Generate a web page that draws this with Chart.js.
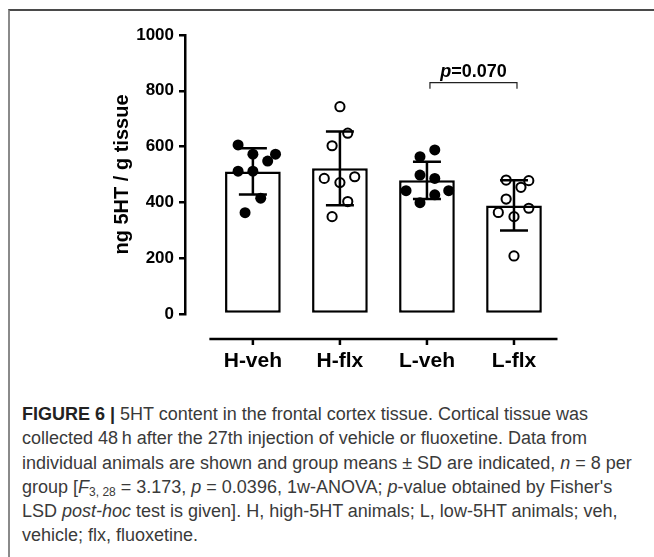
<!DOCTYPE html>
<html>
<head>
<meta charset="utf-8">
<script src="https://cdn.jsdelivr.net/npm/chart.js@4"></script>
<style>
  html, body { margin: 0; padding: 0; background: #fff; }
  body { width: 654px; height: 557px; position: relative; overflow: hidden; }
  #frame { position: absolute; left: 8px; top: 9px; width: 646px; height: 548px;
           border-top: 2px solid #4a4a4a; border-left: 2px solid #8a8a8a; box-sizing: border-box; }
  #c { position: absolute; left: 0; top: 0; }
  #caption { position: absolute; left: 22px; top: 402px; width: 630px;
             font-family: "Liberation Sans", Arial, sans-serif; font-size: 18px; line-height: 24.3px;
             color: #3a3a3a; white-space: nowrap; }
  #caption b { color: #222; }
  sub { font-size: 12px; line-height: 0; vertical-align: -3px; }
</style>
</head>
<body>
<div id="frame"></div>
<canvas id="c" width="654" height="400"></canvas>
<div id="caption">
<b>FIGURE 6 |</b> 5HT content in the frontal cortex tissue. Cortical tissue was<br>
collected 48&#8201;h after the 27th injection of vehicle or fluoxetine. Data from<br>
individual animals are shown and group means &#177; SD are indicated, <i>n</i> = 8 per<br>
group [<i>F</i><sub>3, 28</sub> = 3.173, <i>p</i> = 0.0396, 1w-ANOVA; <i>p</i>-value obtained by Fisher's<br>
LSD <i>post-hoc</i> test is given]. H, high-5HT animals; L, low-5HT animals; veh,<br>
vehicle; flx, fluoxetine.
</div>
<script>
// ---- data ----
const categories = ['H-veh', 'H-flx', 'L-veh', 'L-flx'];
const means = [511, 522, 479, 389];
const sds = [83, 132, 67, 90];
const hVeh = [606, 573, 573, 548, 512, 512, 415, 363];
const hVehJitter = [-0.17, 0, 0.26, 0.17, -0.17, 0, 0.09, -0.09];
const hFlx = [743, 648, 603, 486, 492, 471, 403, 349];
const hFlxJitter = [0, 0.09, -0.09, -0.18, 0.17, 0, 0.09, -0.09];
const lVeh = [588, 564, 498, 486, 442, 442, 427, 399];
const lVehJitter = [0.09, -0.08, -0.08, 0.09, -0.24, 0.25, 0.09, -0.08];
const lFlx = [480, 478, 454, 412, 364, 379, 349, 208];
const lFlxJitter = [-0.09, 0.17, 0.08, -0.09, -0.18, 0.17, 0, 0];
const yTicks = [0, 200, 400, 600, 800, 1000];
const yTitle = 'ng 5HT / g tissue';
const comparePair = [2, 3];
const compareLevel = 829;
const compareText = ['p', '=0.070'];

const groups = [
  { values: hVeh, jitter: hVehJitter, filled: true },
  { values: hFlx, jitter: hFlxJitter, filled: false },
  { values: lVeh, jitter: lVehJitter, filled: true },
  { values: lFlx, jitter: lFlxJitter, filled: false }
];

const FONT = '"Liberation Sans", Arial, sans-serif';

const scatterSets = groups.map((g, i) => ({
  type: 'scatter',
  order: 1,
  data: g.values.map((v, k) => ({ x: i + g.jitter[k], y: v })),
  pointRadius: g.filled ? 5.5 : 4.6,
  pointHoverRadius: g.filled ? 5.5 : 4.6,
  pointBackgroundColor: g.filled ? '#000' : 'rgba(0,0,0,0)',
  pointBorderColor: '#000',
  pointBorderWidth: g.filled ? 0 : 2,
  clip: false
}));

const overlay = {
  id: 'overlay',
  afterDatasetsDraw(chart) {
    const { ctx, scales: { x, y } } = chart;
    ctx.save();
    ctx.strokeStyle = '#000';
    ctx.lineWidth = 2.5;
    ctx.lineCap = 'butt';
    // error bars (mean ± SD)
    means.forEach((m, i) => {
      const px = x.getPixelForValue(i);
      const top = y.getPixelForValue(m + sds[i]);
      const bot = y.getPixelForValue(m - sds[i]);
      ctx.beginPath();
      ctx.moveTo(px, top); ctx.lineTo(px, bot);
      ctx.moveTo(px - 14, top); ctx.lineTo(px + 14, top);
      ctx.moveTo(px - 14, bot); ctx.lineTo(px + 14, bot);
      ctx.stroke();
    });
    // offset x axis
    const y0 = y.getPixelForValue(0) + 25;
    ctx.beginPath();
    ctx.moveTo(x.getPixelForValue(-0.5), y0);
    ctx.lineTo(x.getPixelForValue(categories.length - 0.5), y0);
    categories.forEach((c, i) => {
      const px = x.getPixelForValue(i);
      ctx.moveTo(px, y0); ctx.lineTo(px, y0 + 6);
    });
    ctx.stroke();
    // comparison bracket
    const xa = x.getPixelForValue(comparePair[0]) + 3;
    const xb = x.getPixelForValue(comparePair[1]) + 3;
    const yb = y.getPixelForValue(compareLevel);
    ctx.lineWidth = 1.2;
    ctx.strokeStyle = '#222';
    ctx.beginPath();
    ctx.moveTo(xa, yb + 6); ctx.lineTo(xa, yb); ctx.lineTo(xb, yb); ctx.lineTo(xb, yb + 6);
    ctx.stroke();
    // label
    ctx.fillStyle = '#000';
    ctx.textBaseline = 'alphabetic';
    ctx.font = 'italic bold 18px ' + FONT;
    const w1 = ctx.measureText(compareText[0]).width;
    ctx.font = 'bold 18px ' + FONT;
    const w2 = ctx.measureText(compareText[1]).width;
    let tx = (xa + xb) / 2 - (w1 + w2) / 2;
    const ty = yb - 6;
    ctx.font = 'italic bold 18px ' + FONT;
    ctx.fillText(compareText[0], tx, ty);
    ctx.font = 'bold 18px ' + FONT;
    ctx.fillText(compareText[1], tx + w1, ty);
    ctx.restore();
  }
};

new Chart(document.getElementById('c'), {
  data: {
    datasets: [
      ...scatterSets,
      {
        type: 'bar',
        order: 2,
        data: means.map((m, i) => ({ x: i, y: m })),
        backgroundColor: '#fff',
        borderColor: '#000',
        borderWidth: 2.5,
        borderSkipped: false,
        barPercentage: 0.64,
        categoryPercentage: 1
      }
    ]
  },
  options: {
    responsive: false,
    devicePixelRatio: 1,
    animation: false,
    events: [],
    layout: { padding: { left: 107, top: 35, right: 96.5, bottom: 26 } },
    plugins: { legend: { display: false }, tooltip: { enabled: false } },
    scales: {
      x: {
        type: 'linear',
        offset: false,
        bounds: 'data',
        min: -0.78,
        max: 3.5,
        afterFit(s) { s.height = 60; },
        afterBuildTicks(s) { s.ticks = categories.map((c, i) => ({ value: i })); },
        border: { display: false },
        grid: { display: false, drawTicks: false, offset: false },
        ticks: {
          padding: 35,
          autoSkip: false,
          maxRotation: 0,
          color: '#000',
          font: { family: FONT, size: 21, weight: 'bold' },
          callback: (v) => categories[v]
        }
      },
      y: {
        min: 0,
        max: 1000,
        afterFit(s) { s.width = 78; },
        afterBuildTicks(s) { s.ticks = yTicks.map(v => ({ value: v })); },
        border: { display: true, color: '#000', width: 2.5 },
        grid: { drawOnChartArea: false, drawTicks: true, tickLength: 6, color: '#000', lineWidth: 2.5 },
        ticks: {
          padding: 5,
          color: '#000',
          font: { family: FONT, size: 17, weight: 'bold' },
          callback: (v) => String(v)
        },
        title: {
          display: true,
          text: yTitle,
          color: '#000',
          font: { family: FONT, size: 20, weight: 'bold' },
          padding: { top: 3, bottom: 4 }
        }
      }
    }
  },
  plugins: [overlay]
});
</script>
</body>
</html>
